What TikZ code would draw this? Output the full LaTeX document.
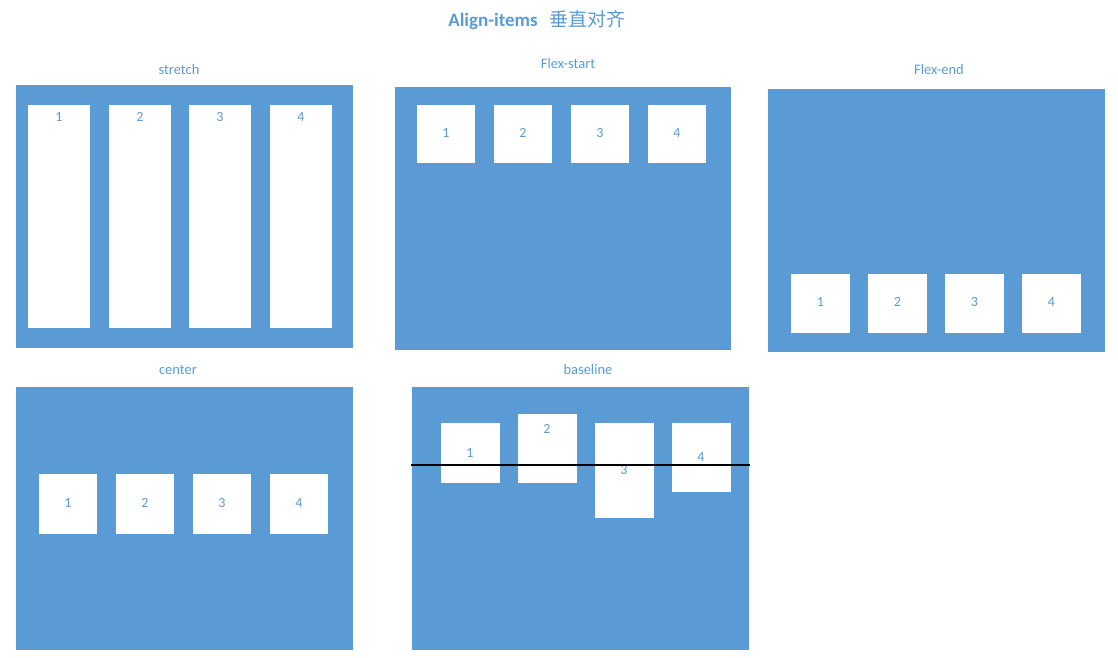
\documentclass[tikz,border=0pt]{standalone}
\usepackage{fontspec}
\setmainfont{Carlito}
\newfontfamily\cjk{Noto Sans CJK SC}
\definecolor{panelblue}{HTML}{5B9BD5}
\definecolor{txtblue}{HTML}{5B9BD5}
\begin{document}
\begin{tikzpicture}[x=1pt,y=-1pt,
  panel/.style={fill=panelblue,draw=none},
  item/.style={fill=white,draw=none},
  num/.style={text=txtblue,font=\fontsize{14}{16}\selectfont,inner sep=0pt},
  paneltitle/.style={text=txtblue,font=\fontsize{14.5}{16}\selectfont,inner sep=0pt}]
\useasboundingbox (0,0) rectangle (1118,657);
\node[text=txtblue,font=\fontsize{19}{21}\selectfont\bfseries] (title) at (537,20) {Align-items\hspace{12pt}{\cjk\mdseries\fontsize{19}{21}\selectfont 垂直对齐}};
% stretch
\node[paneltitle] (t1) at (179,70) {stretch};
\path[panel] (16,85) rectangle (353,348);
\foreach \x/\n in {28/1,109/2,189/3,270/4}{
  \path[item] (\x,105) rectangle ++(62,223);
  \node[num] (s\n) at (\x+31,117) {\n};
}
% flex-start
\node[paneltitle] (t2) at (568,64) {Flex-start};
\path[panel] (395,87) rectangle (731,350);
\foreach \x/\n in {417/1,494/2,571/3,648/4}{
  \path[item] (\x,105) rectangle ++(58,58);
  \node[num] (f\n) at (\x+29,133) {\n};
}
% flex-end
\node[paneltitle] (t3) at (939,70) {Flex-end};
\path[panel] (768,89) rectangle (1105,352);
\foreach \x/\n in {791/1,868/2,945/3,1022/4}{
  \path[item] (\x,274) rectangle ++(59,59);
  \node[num] (e\n) at (\x+29.5,302) {\n};
}
% center
\node[paneltitle] (t4) at (178,370) {center};
\path[panel] (16,387) rectangle (353,650);
\foreach \x/\n in {39/1,116/2,193/3,270/4}{
  \path[item] (\x,474) rectangle ++(58,60);
  \node[num] (c\n) at (\x+29,503) {\n};
}
% baseline
\node[paneltitle] (t5) at (588,370) {baseline};
\path[panel] (412,387) rectangle (749,650);
\path[item] (441,423) rectangle (500,483);
\node[num] (b1) at (470,453) {1};
\path[item] (518,414) rectangle (577,483);
\node[num] (b2) at (547,429) {2};
\path[item] (595,423) rectangle (654,518);
\node[num] (b3) at (624,470) {3};
\path[item] (672,423) rectangle (731,492);
\node[num] (b4) at (701,457) {4};
\coordinate (bl) at (411,465);
\coordinate (br) at (750,465);
\draw[black,line width=1.5pt] (bl) -- (br);
\end{tikzpicture}
\end{document}
